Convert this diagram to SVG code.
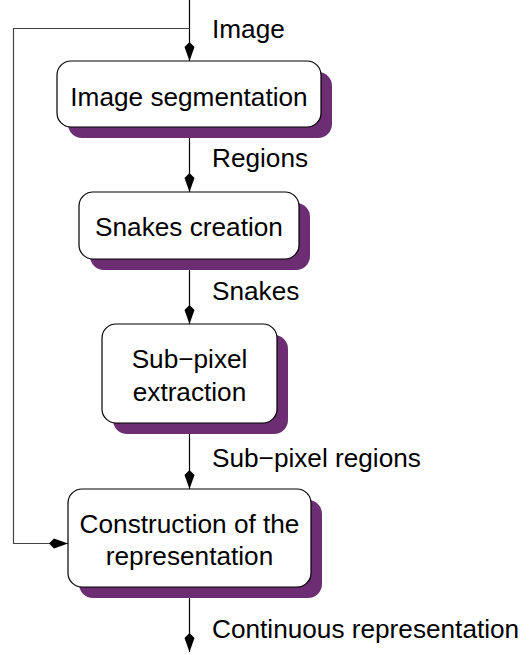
<svg xmlns="http://www.w3.org/2000/svg" width="529" height="655" viewBox="0 0 529 655">
<style>
.box{fill:#fff;stroke:#000;stroke-width:1.2}
.sh{fill:#6c2d72}
.t{font-family:"Liberation Sans",Arial,sans-serif;font-size:26.2px;fill:#000}
.c{text-anchor:middle}
.ln{fill:none;stroke:#000;stroke-width:1.2}
.fb{fill:none;stroke:#444;stroke-width:1.2}
</style>
<defs>
<marker id="ah" markerUnits="userSpaceOnUse" markerWidth="22" markerHeight="12" viewBox="-20 -6 22 12" refX="0" refY="0" orient="auto">
<path d="M0,0 L-14,-5 L-19,0 L-14,5 Z" fill="#000"/>
</marker>
</defs>
<g id="connectors">
<line class="ln" x1="189.5" y1="0" x2="189.5" y2="61" marker-end="url(#ah)"/>
<line class="ln" x1="189.5" y1="127" x2="189.5" y2="192" marker-end="url(#ah)"/>
<line class="ln" x1="189.5" y1="259" x2="189.5" y2="324" marker-end="url(#ah)"/>
<line class="ln" x1="189.5" y1="423" x2="189.5" y2="489" marker-end="url(#ah)"/>
<line class="ln" x1="189.5" y1="587" x2="189.5" y2="652" marker-end="url(#ah)"/>
<polyline class="fb" points="189.5,28.5 13.5,28.5 13.5,543.5 68,543.5" marker-end="url(#ah)"/>
<text class="t" x="212" y="38">Image</text>
<text class="t" x="212" y="167">Regions</text>
<text class="t" x="212" y="300">Snakes</text>
<text class="t" x="212" y="467">Sub−pixel regions</text>
<text class="t" x="212" y="638">Continuous representation</text>
</g>
<g id="n1">
<rect class="sh" x="68" y="72" width="264" height="66" rx="14"/>
<rect class="box" x="57" y="61" width="264" height="66" rx="14"/>
<text class="t c" x="189" y="106">Image segmentation</text>
</g>
<g id="n2">
<rect class="sh" x="90" y="203" width="220" height="67" rx="14"/>
<rect class="box" x="79" y="192" width="220" height="67" rx="14"/>
<text class="t c" x="189" y="236">Snakes creation</text>
</g>
<g id="n3">
<rect class="sh" x="113" y="335" width="175" height="99" rx="14"/>
<rect class="box" x="102" y="324" width="175" height="99" rx="14"/>
<text class="t c" x="189.5" y="368">Sub−pixel</text>
<text class="t c" x="189.5" y="401">extraction</text>
</g>
<g id="n4">
<rect class="sh" x="79" y="500" width="243" height="98" rx="14"/>
<rect class="box" x="68" y="489" width="243" height="98" rx="14"/>
<text class="t c" x="189.5" y="533">Construction of the</text>
<text class="t c" x="189.5" y="565">representation</text>
</g>
</svg>
